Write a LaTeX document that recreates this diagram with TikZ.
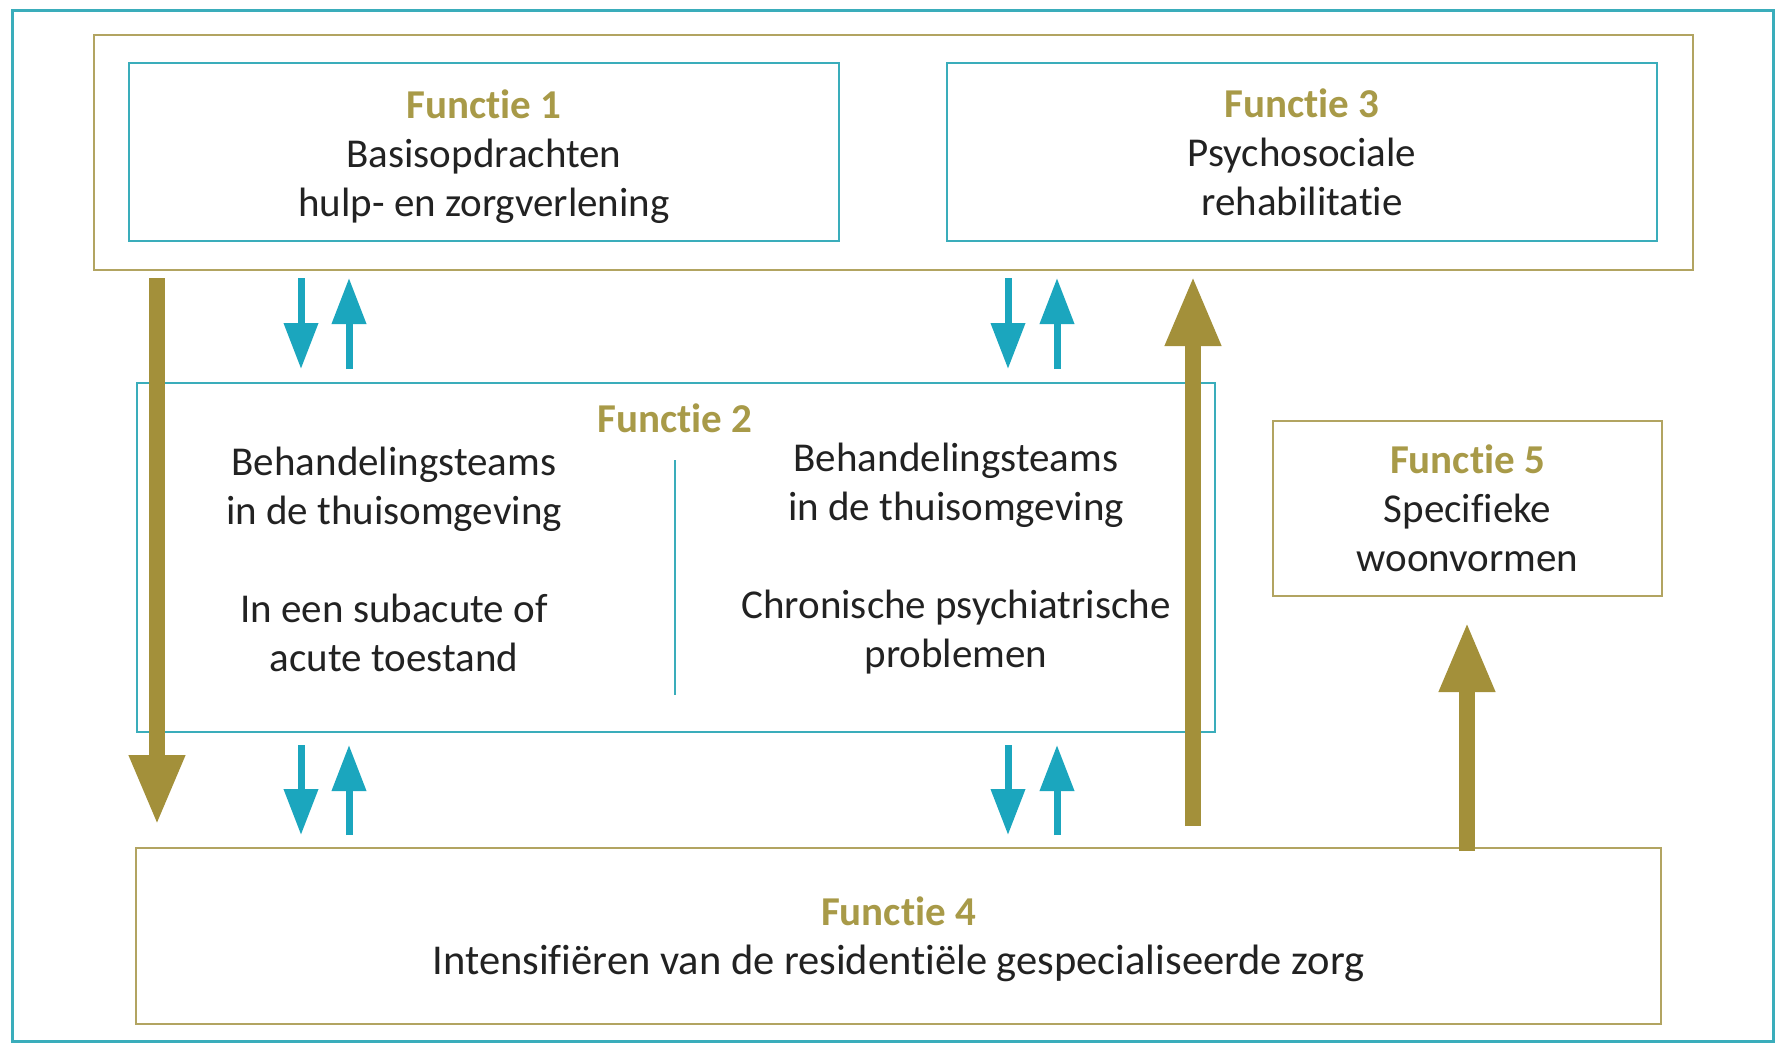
\documentclass[tikz,border=0pt]{standalone}
\usepackage{fontspec}
\setmainfont[Ligatures=NoCommon]{Carlito}
\usetikzlibrary{arrows.meta}
\definecolor{tealA}{HTML}{1BA6BE}
\definecolor{tealL}{HTML}{3AADBB}
\definecolor{goldA}{HTML}{A3903A}
\definecolor{goldL}{HTML}{B2A461}
\definecolor{goldT}{HTML}{A89A48}
\definecolor{txt}{HTML}{222222}
\begin{document}
\begin{tikzpicture}[x=1pt,y=-1pt,
  tbox/.style={draw=tealL,line width=2pt,rectangle,inner sep=0pt,anchor=north west},
  gbox/.style={draw=goldL,line width=2pt,rectangle,inner sep=0pt,anchor=north west},
  lbl/.style={align=center,font=\fontsize{41}{49}\selectfont,text=txt},
  fn/.style={text=goldT,font=\fontsize{41}{49}\selectfont\bfseries},
  tarrow/.style={draw=tealA,line width=7pt,-{Triangle[length=46pt,width=33pt]}},
  garrow/.style={draw=goldA,line width=16pt,-{Triangle[length=70pt,width=52pt]}}]
\useasboundingbox (0,0) rectangle (1781,1045);
\fill[white] (0,0) rectangle (1781,1045);
% outer frame
\node[tbox,line width=3pt,minimum width=1761pt,minimum height=1031pt] (frame) at (11,9) {};
% container of F1 and F3
\node[gbox,minimum width=1599pt,minimum height=235pt] (top) at (93,34) {};
% Functie 1
\node[tbox,minimum width=710pt,minimum height=178pt] (f1) at (128,62) {};
\node[lbl] (f1t) at ([yshift=-4.5pt]f1.center) {\textcolor{goldT}{\bfseries Functie 1}\\Basisopdrachten\\hulp- en zorgverlening};
% Functie 3
\node[tbox,minimum width=710pt,minimum height=178pt] (f3) at (946,62) {};
\node[lbl] (f3t) at (f3.center) {\textcolor{goldT}{\bfseries Functie 3}\\Psychosociale\\rehabilitatie};
% Functie 2
\node[tbox,line width=1.5pt,minimum width=1078pt,minimum height=349pt] (f2) at (136,382) {};
\node[fn] (f2h) at (675,418) {Functie 2};
\draw[tealL,line width=1.5pt] (675,460) coordinate (d1) -- (675,695) coordinate (d2);
\node[lbl] (f2l) at (394,559) {Behandelingsteams\\in de thuisomgeving\\[49pt]In een subacute of\\acute toestand};
\node[lbl] (f2r) at (956,559) {Behandelingsteams\\in de thuisomgeving\\[49pt]Chronische psychiatrische\\problemen};
% Functie 5
\node[gbox,minimum width=389pt,minimum height=175pt] (f5) at (1272,420) {};
\node[lbl] (f5t) at (f5.center) {\textcolor{goldT}{\bfseries Functie 5}\\Specifieke\\woonvormen};
% Functie 4
\node[gbox,minimum width=1525pt,minimum height=176pt] (f4) at (135,847) {};
\node[lbl,font=\fontsize{42.5}{49}\selectfont] (f4t) at ([yshift=-3.5pt]f4.center) {\textcolor{goldT}{\fontsize{41}{49}\selectfont\bfseries Functie 4}\\Intensifiëren van de residentiële gespecialiseerde zorg};
% teal arrow endpoints
\coordinate (u1a) at (301,278); \coordinate (u1b) at (301,369);
\coordinate (u2a) at (349,369); \coordinate (u2b) at (349,278);
\coordinate (u3a) at (1008,278); \coordinate (u3b) at (1008,369);
\coordinate (u4a) at (1057,369); \coordinate (u4b) at (1057,278);
\coordinate (l1a) at (301,745); \coordinate (l1b) at (301,835);
\coordinate (l2a) at (349,835); \coordinate (l2b) at (349,745);
\coordinate (l3a) at (1008,745); \coordinate (l3b) at (1008,835);
\coordinate (l4a) at (1057,835); \coordinate (l4b) at (1057,745);
\foreach \p in {u1,u2,u3,u4,l1,l2,l3,l4} \draw[tarrow] (\p a) -- (\p b);
% gold arrows
\coordinate (g1a) at (157,278); \coordinate (g1b) at (157,825);
\coordinate (g2a) at (1193,826); \coordinate (g2b) at (1193,276);
\coordinate (g3a) at (1467,851); \coordinate (g3b) at (1467,622);
\draw[garrow] (g1a) -- (g1b);
\draw[garrow] (g2a) -- (g2b);
\draw[garrow] (g3a) -- (g3b);
\end{tikzpicture}
\end{document}
